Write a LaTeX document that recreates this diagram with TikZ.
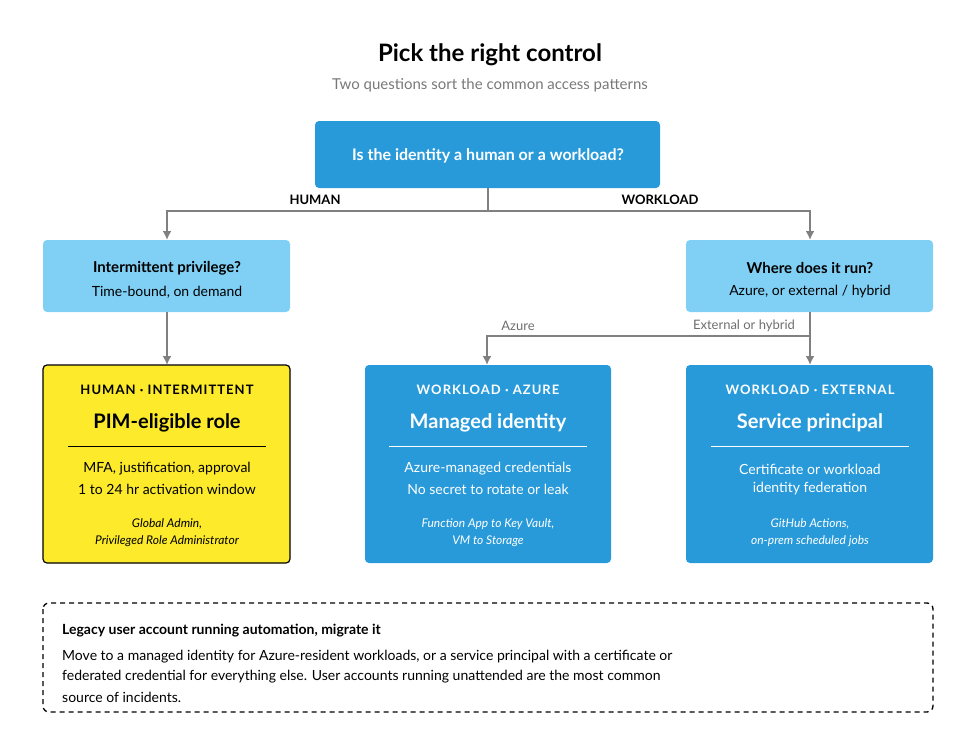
\documentclass[tikz,border=0pt]{standalone}
\usepackage{fontspec}
\setmainfont{Lato}
\begin{document}
\begin{tikzpicture}[x=1pt,y=-1pt,
  blue/.style={fill={rgb,255:red,40;green,154;blue,218},draw=none,rounded corners=4pt},
  light/.style={fill={rgb,255:red,128;green,208;blue,245},draw=none,rounded corners=4pt},
  yel/.style={fill={rgb,255:red,252;green,234;blue,43},draw=black,line width=1.2pt,rounded corners=4pt},
  conn/.style={draw={rgb,255:red,128;green,128;blue,128},line width=1.8pt,-{Latex[length=9pt,width=9pt]}},
  line/.style={draw={rgb,255:red,128;green,128;blue,128},line width=1.8pt},
  t/.style={inner sep=0pt,anchor=center}]
\useasboundingbox (0,0) rectangle (980,753);
\usetikzlibrary{arrows.meta}
\node[t,font=\bfseries\fontsize{24}{28}\selectfont] (title) at (490,55) {Pick the right control};
\node[t,font=\fontsize{15}{18}\selectfont,text={rgb,255:red,120;green,120;blue,120}] (sub) at (490,85) {Two questions sort the common access patterns};
% top
\path[blue] (315,121) rectangle (660,188);
\node[t,font=\bfseries\fontsize{16}{19}\selectfont,text=white] (q) at (488,156) {Is the identity a human or a workload?};
\coordinate (qb) at (488,188);
\coordinate (j) at (488,211);
\node[t,font=\bfseries\fontsize{13}{16}\selectfont] (hl) at (315,200) {HUMAN};
\node[t,font=\bfseries\fontsize{13}{16}\selectfont] (wl) at (660,200) {WORKLOAD};
% mid
\path[light] (43,240) rectangle (290,312);
\node[t,font=\bfseries\fontsize{15}{18}\selectfont] (ip) at (167,268) {Intermittent privilege?};
\node[t,font=\fontsize{14}{17}\selectfont] (ips) at (167,292) {Time-bound, on demand};
\path[light] (686,240) rectangle (933,312);
\node[t,font=\bfseries\fontsize{15}{18}\selectfont] (wr) at (810,268) {Where does it run?};
\node[t,font=\fontsize{14}{17}\selectfont] (wrs) at (810,292) {Azure, or external / hybrid};
\coordinate (lt) at (167,240); \coordinate (rt) at (810,240);
\coordinate (lb) at (167,312); \coordinate (rb) at (810,312);
\coordinate (a1) at (167,365); \coordinate (a2) at (487,365); \coordinate (a3) at (810,365);
\coordinate (br) at (810,336); \coordinate (bl) at (487,336);
\draw[line] (qb) -- (j);
\draw[conn] (j) -| (lt);
\draw[conn] (j) -| (rt);
\draw[conn] (lb) -- (a1);
\draw[conn] (rb) -- (a3);
\draw[conn] (br) -- (bl) -- (a2);
\node[t,font=\fontsize{13}{16}\selectfont,text={rgb,255:red,110;green,110;blue,110}] (az) at (518,326) {Azure};
\node[t,font=\fontsize{13}{16}\selectfont,text={rgb,255:red,110;green,110;blue,110}] (ex) at (744,326) {External or hybrid};
% bottom boxes
\path[yel] (43,365) rectangle (290,563);
\path[blue] (365,365) rectangle (611,563);
\path[blue] (686,365) rectangle (933,563);
\foreach \cx/\tag/\ttl/\la/\lb/\ia/\ib/\col in {
 167/HUMAN · INTERMITTENT/PIM-eligible role/{MFA, justification, approval}/1 to 24 hr activation window/{Global Admin,}/Privileged Role Administrator/black,
 488/WORKLOAD · AZURE/Managed identity/Azure-managed credentials/No secret to rotate or leak/{Function App to Key Vault,}/VM to Storage/white,
 810/WORKLOAD · EXTERNAL/Service principal/Certificate or workload/identity federation/{GitHub Actions,}/on-prem scheduled jobs/white}{
 \node[t,font=\bfseries\fontsize{13}{16}\selectfont,text=\col] at (\cx,390) {\addfontfeature{LetterSpace=8}\tag};
 \node[t,font=\bfseries\fontsize{20}{24}\selectfont,text=\col] at (\cx,423) {\ttl};
 \draw[\col,line width=1pt] (\cx-99,446) -- (\cx+99,446);
 \node[t,font=\fontsize{14}{17}\selectfont,text=\col] at (\cx,469) {\la};
 \node[t,font=\fontsize{14}{17}\selectfont,text=\col] at (\cx,489) {\lb};
 \node[t,font=\itshape\fontsize{12}{15}\selectfont,text=\col] at (\cx,524) {\ia};
 \node[t,font=\itshape\fontsize{12}{15}\selectfont,text=\col] at (\cx,541) {\ib};
}
% legacy
\draw[dashed,line width=1.3pt,rounded corners=6pt,dash pattern=on 5pt off 4pt] (43,603) rectangle (933,712);
\node[inner sep=0pt,anchor=west,font=\bfseries\fontsize{14}{17}\selectfont] (lg) at (62,631) {Legacy user account running automation, migrate it};
\node[inner sep=0pt,anchor=west,font=\fontsize{14}{17}\selectfont] (l1) at (62,657) {Move to a managed identity for Azure-resident workloads, or a service principal with a certificate or};
\node[inner sep=0pt,anchor=west,font=\fontsize{14}{17}\selectfont] (l2) at (62,677) {federated credential for everything else. User accounts running unattended are the most common};
\node[inner sep=0pt,anchor=west,font=\fontsize{14}{17}\selectfont] (l3) at (62,697) {source of incidents.};
\end{tikzpicture}
\end{document}
